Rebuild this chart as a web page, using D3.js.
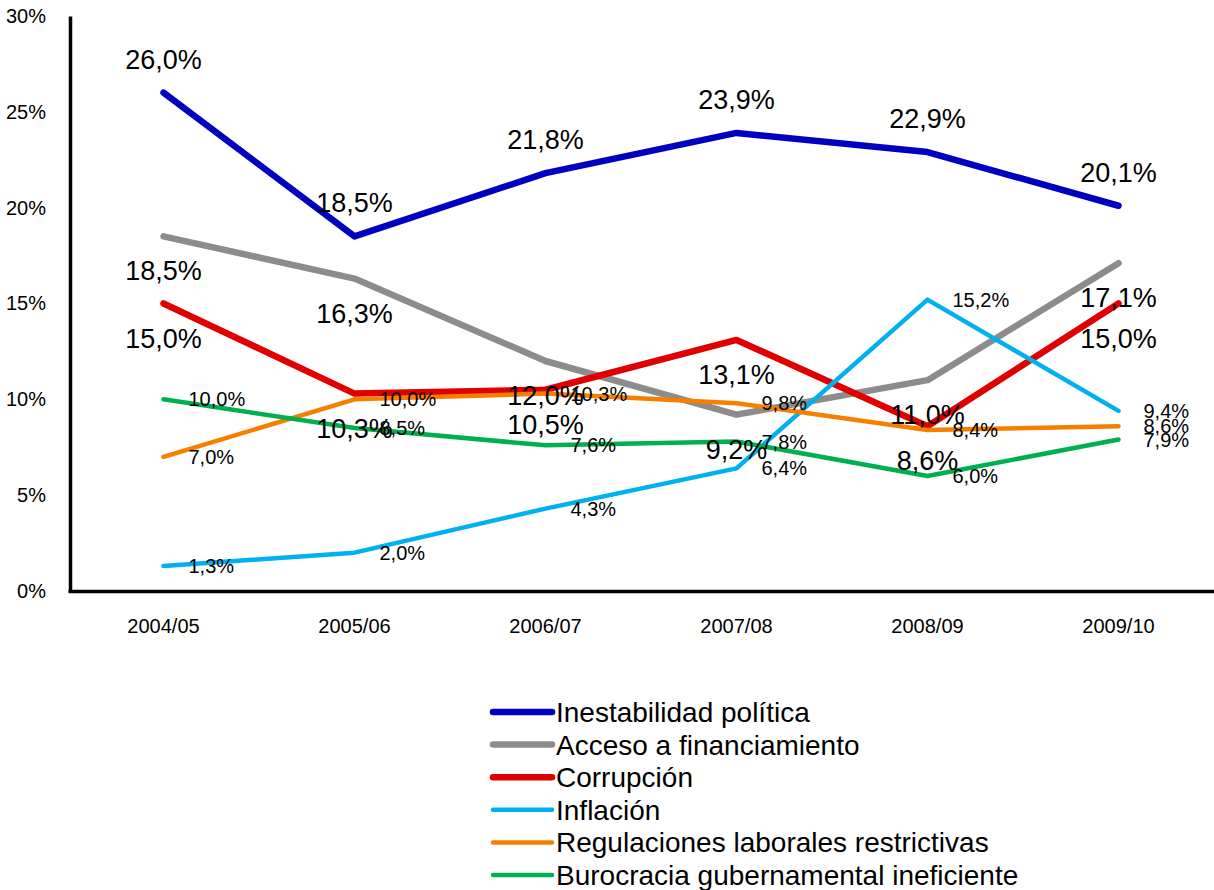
<!DOCTYPE html>
<html>
<head>
<meta charset="utf-8">
<script src="https://cdn.jsdelivr.net/npm/d3@7"></script>
<style>
  body { margin: 0; background: #fff; }
  svg text { font-family: "Liberation Sans", Arial, sans-serif; fill: #000; }
  .axis path { stroke: #000; stroke-width: 3.5; }
  .axis text { font-size: 20px; }
  .big { font-size: 27px; }
  .small { font-size: 20px; }
  .legend text { font-size: 28px; }
</style>
</head>
<body>
<svg id="chart" width="1214" height="890"></svg>
<script>
// data
const years = ["2004/05", "2005/06", "2006/07", "2007/08", "2008/09", "2009/10"];
const inestabilidad = [26.0, 18.5, 21.8, 23.9, 22.9, 20.1];
const acceso = [18.5, 16.3, 12.0, 9.2, 11.0, 17.1];
const corrupcion = [15.0, 10.3, 10.5, 13.1, 8.6, 15.0];
const inflacion = [1.3, 2.0, 4.3, 6.4, 15.2, 9.4];
const regulaciones = [7.0, 10.0, 10.3, 9.8, 8.4, 8.6];
const burocracia = [10.0, 8.5, 7.6, 7.8, 6.0, 7.9];
const names = [
    "Inestabilidad política",
    "Acceso a financiamiento",
    "Corrupción",
    "Inflación",
    "Regulaciones laborales restrictivas",
    "Burocracia gubernamental ineficiente"
];
const yTicks = [0, 5, 10, 15, 20, 25, 30];

// styling per series (label: above / below / right)
const styles = [
    { color: "#0000c0", width: 6.5, label: "above" },
    { color: "#8c8c8c", width: 6.5, label: "below" },
    { color: "#e00000", width: 6.5, label: "below" },
    { color: "#00b0f0", width: 4.5, label: "right" },
    { color: "#f77f00", width: 4.5, label: "right" },
    { color: "#00b050", width: 4.5, label: "right" }
];

const values = [inestabilidad, acceso, corrupcion, inflacion, regulaciones, burocracia];
const series = names.map((name, i) => ({
    name: name,
    values: values[i],
    style: styles[i]
}));

const translate = (a, b) => "translate(" + a + "," + b + ")";
const pct = v => d3.format(".1f")(v).replace(".", ",") + "%";

const svg = d3.select("#chart");

const x = d3.scaleBand().domain(years).range([68, 1214]);
const y = d3.scaleLinear().domain([0, 30]).range([591, 16]);
const cx = d => x(d) + x.bandwidth() / 2;

// axes
svg.append("g")
    .attr("class", "axis")
    .attr("transform", translate(70, 0))
    .call(d3.axisLeft(y).tickValues(yTicks).tickSize(0).tickSizeOuter(0)
        .tickPadding(24).tickFormat(d => d + "%"));

svg.append("g")
    .attr("class", "axis")
    .attr("transform", translate(0, 591))
    .call(d3.axisBottom(x).tickSize(0).tickSizeOuter(0).tickPadding(28));

svg.selectAll(".axis text").attr("font-family", null);

// lines
const line = d3.line()
    .x((d, i) => cx(years[i]))
    .y(d => y(d));

svg.append("g")
    .selectAll("path")
    .data(series)
    .enter()
    .append("path")
    .attr("d", d => line(d.values))
    .attr("fill", "none")
    .attr("stroke", d => d.style.color)
    .attr("stroke-width", d => d.style.width)
    .attr("stroke-linejoin", "round")
    .attr("stroke-linecap", "round");

// data labels
const labels = svg.append("g");
series.forEach(function(s) {
    let pos = s.style.label;
    labels.selectAll(null)
        .data(s.values)
        .enter()
        .append("text")
        .attr("class", pos === "right" ? "small" : "big")
        .attr("text-anchor", pos === "right" ? "start" : "middle")
        .attr("x", (d, i) => cx(years[i]) + (pos === "right" ? 25 : 0))
        .attr("y", function(d) {
            if (pos === "above") return y(d) - 24;
            if (pos === "below") return y(d) + 44;
            return y(d) + 7;
        })
        .text(pct);
});

// legend
const legend = svg.append("g")
    .attr("class", "legend")
    .attr("transform", translate(493, 712));

const rows = legend.selectAll("g")
    .data(series)
    .enter()
    .append("g")
    .attr("transform", (d, i) => translate(0, i * 32.6));

rows.append("line")
    .attr("x1", 0)
    .attr("x2", 59)
    .attr("stroke", d => d.style.color)
    .attr("stroke-width", d => d.style.width)
    .attr("stroke-linecap", "round");

rows.append("text")
    .attr("x", 63)
    .attr("y", 10)
    .text(d => d.name);
</script>
</body>
</html>
